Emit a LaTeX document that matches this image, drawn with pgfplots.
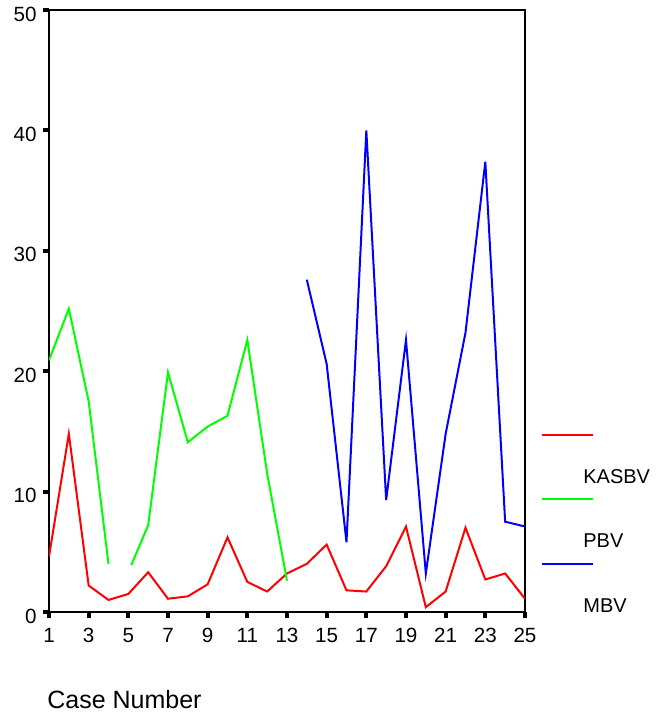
\documentclass[border=0pt]{standalone}
\usepackage{fontspec}
\setmainfont{Liberation Sans}
\usepackage{pgfplots}
\pgfplotsset{compat=1.18}
\begin{document}
\begin{tikzpicture}
\useasboundingbox (-24.5pt,-54pt) rectangle (303.5pt,306pt);
\begin{axis}[
  at={(0pt,0pt)}, anchor=south west,
  scale only axis, width=238pt, height=301pt,
  xmin=1, xmax=25, ymin=0, ymax=50,
  xtick={1,3,...,25}, ytick={0,10,...,50},
  tick align=outside, xtick pos=left, ytick pos=left,
  major tick length=3pt,
  xtick style={draw=black, line width=2pt},
  ytick style={draw=black, line width=2pt},
  axis line style={line width=1.1pt},
  tick label style={font=\fontsize{10.3}{12}\selectfont},
  /pgf/number format/assume math mode=true,
  xticklabel style={inner sep=0pt, yshift=-5pt},
  yticklabel style={inner sep=0pt, xshift=-3pt, yshift=-2pt},
  xlabel={Case Number},
  xlabel style={at={(axis description cs:0,0)}, anchor=west, inner sep=0pt, yshift=-44pt, xshift=-1pt, font=\fontsize{12.5}{14}\selectfont},
  legend image code/.code={\draw[#1] (0pt,21.5pt) -- (25.5pt,21.5pt);},
  legend style={at={(axis description cs:1.0336,0.2967)}, anchor=north west, draw=none, fill=none, inner sep=0pt, row sep=4pt, column sep=0pt, font=\fontsize{10}{12}\selectfont},
  legend cell align=left,
]
\addplot[red, line width=1pt] coordinates {
(1,4.6) (2,14.8) (3,2.2) (4,1.0) (5,1.5) (6,3.3) (7,1.1) (8,1.3) (9,2.3) (10,6.2)
(11,2.5) (12,1.7) (13,3.2) (14,4.0) (15,5.6) (16,1.8) (17,1.7) (18,3.8) (19,7.1) (20,0.4)
(21,1.7) (22,7.0) (23,2.7) (24,3.2) (25,1.1)};
\addlegendentry{\hspace*{-7.5pt}KASBV}
\addplot[green, line width=1pt] coordinates {
(1,20.9) (2,25.2) (3,17.5) (4,4.0)};
\addlegendentry{\hspace*{-7.5pt}PBV}
\addplot[blue, line width=1pt] coordinates {
(14,27.6) (15,20.6) (16,5.8) (17,40.0) (18,9.3) (19,22.6) (20,3.2) (21,14.8) (22,23.2)
(23,37.4) (24,7.5) (25,7.1)};
\addlegendentry{\hspace*{-7.5pt}MBV}
\addplot[green, line width=1pt, forget plot] coordinates {
(5.15,3.9) (6,7.2) (7,19.9) (8,14.1) (9,15.4) (10,16.3) (11,22.6) (12,11.5) (13,2.6)};
\end{axis}
\end{tikzpicture}
\end{document}
